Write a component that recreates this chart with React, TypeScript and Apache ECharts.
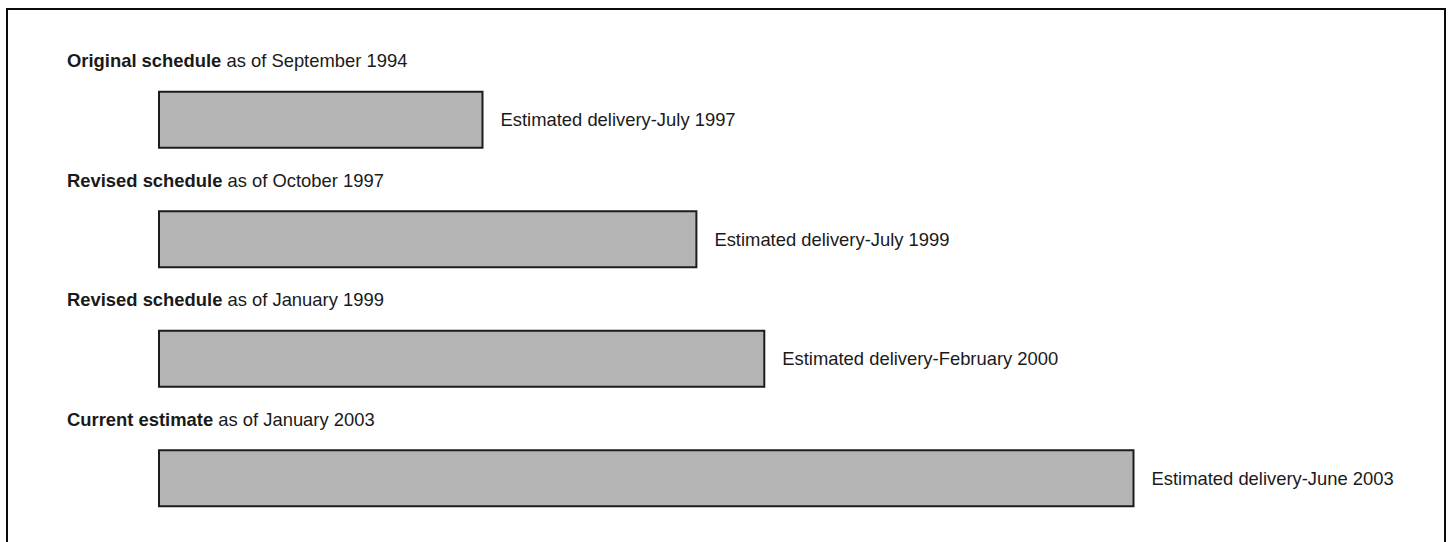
import React, { useEffect, useRef } from "react";
import * as echarts from "echarts";

const scheduleNames = ["Original schedule", "Revised schedule", "Revised schedule", "Current estimate"];
const asOfDates = ["September 1994", "October 1997", "January 1999", "January 2003"];
const deliveryDates = ["July 1997", "July 1999", "February 2000", "June 2003"];
// bar length, in months from the programme start
const durationMonths = [35, 58, 65.3, 105];

const FONT = "'Liberation Sans', Arial, Helvetica, sans-serif";

export default function App() {
  const ref = useRef<HTMLDivElement>(null);

  useEffect(() => {
    document.body.style.margin = "0";
    if (!ref.current) return;
    const chart = echarts.init(ref.current, null, { renderer: "svg" });
    const cats = scheduleNames.map((n, i) => `${n} ${asOfDates[i]}`);
    chart.setOption({
      animation: false,
      backgroundColor: "#ffffff",
      grid: { left: 158, right: 81, top: 60, bottom: 4 },
      xAxis: {
        type: "value",
        min: 0,
        max: 130,
        show: false,
      },
      yAxis: {
        type: "category",
        data: cats,
        inverse: true,
        show: false,
      },
      graphic: [
        {
          type: "rect",
          shape: { x: 7, y: 9, width: 1438, height: 600 },
          style: { fill: "none", stroke: "#0a0a0a", lineWidth: 2 },
          silent: true,
          z: 0,
        },
      ],
      series: [
        {
          type: "bar",
          data: durationMonths,
          barWidth: 58,
          barGap: "-100%",
          silent: true,
          itemStyle: { color: "#b4b4b4", borderColor: "#1c1c1c", borderWidth: 2 },
          label: {
            show: true,
            position: [-91, -30],
            align: "left",
            verticalAlign: "middle",
            formatter: (p: any) => `{b|${scheduleNames[p.dataIndex]}}{r| as of ${asOfDates[p.dataIndex]}}`,
            rich: {
              b: { fontFamily: FONT, fontSize: 18.4, fontWeight: "bold", color: "#1a1a1a" },
              r: { fontFamily: FONT, fontSize: 18.4, color: "#1a1a1a" },
            },
          },
        },
        {
          type: "bar",
          data: durationMonths,
          barWidth: 58,
          barGap: "-100%",
          silent: true,
          itemStyle: { color: "rgba(0,0,0,0)" },
          label: {
            show: true,
            position: "right",
            distance: 17,
            fontFamily: FONT,
            fontSize: 18.4,
            color: "#1a1a1a",
            formatter: (p: any) => `Estimated delivery-${deliveryDates[p.dataIndex]}`,
          },
        },
      ],
    });
    return () => chart.dispose();
  }, []);

  return <div ref={ref} style={{ width: 1448, height: 542 }} />;
}
